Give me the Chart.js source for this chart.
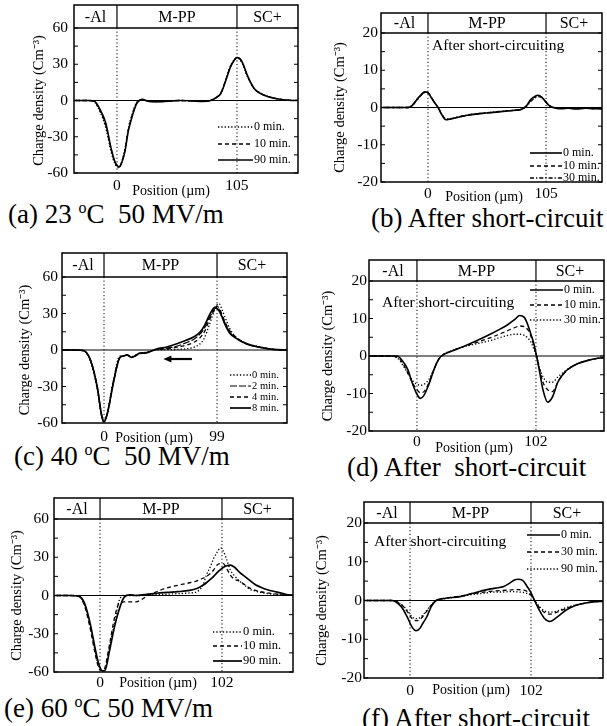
<!DOCTYPE html>
<html><head><meta charset="utf-8">
<script src="https://cdn.jsdelivr.net/npm/chart.js@4.4.1/dist/chart.umd.min.js"></script>
<style>
html,body{margin:0;padding:0;background:#fff;}
body{width:607px;height:726px;position:relative;overflow:hidden;}
.pn{position:absolute;}
.cap{position:absolute;font-family:"Liberation Serif","Times New Roman",serif;font-size:27px;color:#000;white-space:pre;line-height:1;}
.cap sup{font-size:16px;vertical-align:10px;line-height:0;}
</style></head><body>
<div class="cap" style="left:8px;top:201px">(a) 23 <sup>o</sup>C  50 MV/m</div>
<div class="cap" style="left:371px;top:205px">(b) After short-circuit</div>
<div class="cap" style="left:14px;top:443px">(c) 40 <sup>o</sup>C  50 MV/m</div>
<div class="cap" style="left:347px;top:454px">(d) After  short-circuit</div>
<div class="cap" style="left:4px;top:695px">(e) 60 <sup>o</sup>C 50 MV/m</div>
<div class="cap" style="left:362px;top:705px">(f) After short-circuit</div>
<script>
// ---------- data ----------
const regions = ['-Al', 'M-PP', 'SC+'];
const yTitle = 'Charge density (Cm\u207B\u00B3)';
const xTitle = 'Position (\u00B5m)';
const noteText = 'After short-circuiting';

// (a) 23 C 50 MV/m
const ticksA = [0, 105];
const posA = [-42,-25,-20,-15,-10,-5,-2,0,2,4,7,10,14,17,19,22,27,35,45,55,65,75,82,87,91,95,99,102,105,107,110,114,120,126,133,140,150,160];
const a0  = [0,0,-1,-9,-22,-43,-52,-55,-55.5,-51,-40,-23,-9,-2,0,0.5,-0.5,-1,-0.5,0,-0.3,-0.8,0,2.5,6.5,17,28,33,35,34.5,30,20,10,6,3,1.5,0.2,0];
const a10 = [0,0,-0.8,-8,-20,-41,-51,-54,-55,-51.5,-41,-24,-10,-2.5,-0.3,0.8,-0.5,-1,-0.5,0,-0.3,-0.8,0,2.5,6.2,16.5,27.5,32.8,35.5,35,30.5,20.5,10,5.8,3,1.5,0.2,0];
const a90 = [0,0,-0.5,-7,-18,-40,-50,-53.5,-55,-52,-42,-25,-11,-3,-0.5,1,-0.5,-1,-0.5,0,-0.3,-0.8,0,2.5,6,16,27,32.5,35.5,35,31,21,10,5.5,3,1.5,0.2,0];
const labelsA = ['0 min.', '10 min.', '90 min.'];

// (b) after short-circuit
const ticksB = [0, 105];
const posB = [-45,-25,-18,-14,-10,-6,-3,0,3,6,9,12,16,20,27,35,45,55,65,76,84,88,91,95,98,101,104,107,111,118,125,132,140,148,156];
const b0  = [0,0,0,0.6,2.1,3.5,4.2,4,2.6,1.2,0,-1.8,-3.3,-3.1,-2.6,-2.1,-1.7,-1.4,-1.1,-0.8,-0.4,0.6,2.0,3.0,3.3,2.8,1.8,0.7,0,-0.3,-0.2,-0.4,-0.2,-0.3,-0.3];
const b10 = [0,0,0,0.5,2.0,3.4,4.1,4,2.7,1.3,0,-1.7,-3.2,-3.1,-2.6,-2.1,-1.7,-1.4,-1.1,-0.8,-0.4,0.5,1.8,2.8,3.2,2.8,1.8,0.7,0,-0.3,-0.2,-0.3,-0.2,-0.3,-0.3];
const b30 = [0,0,0,0.5,1.9,3.3,4.0,3.9,2.7,1.3,0,-1.6,-3.1,-3.0,-2.5,-2.0,-1.6,-1.3,-1.0,-0.7,-0.3,0.4,1.5,2.5,2.9,2.7,1.9,0.8,0.1,-0.2,-0.2,-0.3,-0.2,-0.3,-0.3];
const labelsB = ['0 min.', '10 min.', '30 min.'];

// (c) 40 C 50 MV/m
const ticksC = [0, 99];
const posC = [-40,-25,-18,-12,-6,-2,0,3,8,14,17,20,24,28,31,36,40,46,55,65,72,78,84,88,92,95,97,99,101,103,106,110,115,125,137,148,162];
const c0 = [0,0,-0.5,-9,-32,-55,-59,-51,-26,-5,-5,-4,-5.5,-4,-2.5,-2,-1.2,0,0.3,0.5,1,2,5,10,20,28,33,37,38,34,27,18,11,5.5,2.5,0.5,0];
const c2 = [0,0,-0.5,-8,-30,-54,-59,-52,-28,-6,-5,-4,-6,-4.5,-2.7,-2.4,-1.3,0.5,1.5,3.5,6,8.5,13,18,26,31,34,35,33,29,22,15,10.5,5,2.2,0.5,0];
const c4 = [0,0,-0.5,-8,-30,-54,-59,-52,-27,-6,-5,-4,-6,-4.5,-2.7,-2.3,-1.3,0.3,1,2.5,4,6,10,15,24,30,34,36,34,30,23,16,11,5,2.2,0.5,0];
const c8 = [0,0,-0.5,-8,-30,-54,-59,-52,-28,-6,-5,-4,-6,-4.5,-2.7,-2.5,-1.4,0.8,2.5,5.5,8,10.5,14.5,20,28,33,35,34,32,28,21,14,10,5,2.2,0.5,0];
const labelsC = ['0 min.', '2 min.', '4 min.', '8 min.'];
const arrowC = [[77, -7.4], [52, -7.4]];

// (d) after short-circuit
const ticksD = [0, 102];
const posD = [-44,-25,-17,-12,-8,-4,0,3,6,10,15,18,21,30,41,52,64,72,78,84,88,92,95,98,100,102.5,105,108,112,116,121,127,133,138,145,155,163];
const d0  = [0,0,0,-1.5,-3.5,-7.2,-10.2,-11.3,-10.5,-7.7,-3.3,-1.2,0,1.3,2.7,4.2,6,7.3,8.4,9.8,10.8,10.3,8.3,5.5,3.5,0,-4,-9,-12.3,-11,-6.8,-4.2,-2.8,-2,-1.3,-0.6,-0.4];
const d10 = [0,0,-0.3,-2,-4.5,-7,-9,-9.8,-9.5,-7.3,-3.3,-1.2,0,1.4,2.6,3.7,5,6,6.8,7.6,8,7.8,7,5,3,0,-3.5,-7,-9,-9.5,-6.8,-4.3,-2.8,-2,-1.3,-0.6,-0.4];
const d30 = [0,0,-0.5,-2.5,-4.5,-6.5,-7.5,-7.8,-7.6,-6.3,-3.2,-1.2,0,1.5,2.5,3.3,4.2,5,5.5,5.8,5.8,5.5,4.8,3.5,2,0,-3,-5.5,-7,-7,-5.5,-4,-2.8,-2,-1.3,-0.6,-0.4];
const labelsD = ['0 min.', '10 min.', '30 min.'];

// (e) 60 C 50 MV/m
const ticksE = [0, 102];
const posE = [-42,-25,-18,-13,-8,-4,-1,2,4,8,12,16,20,25,30,35,39,45,50,56,65,75,81,86,89,92,95,98,101,103,106,109,112,117,121,125,130,134,140,148,155,163];
const e0  = [0,0,-0.5,-7,-25,-44,-56,-59,-58,-40,-22,-4,0,0,0,0,0.3,0.5,0.8,1,1.5,2,3,8,16,22,29,34,37.4,35,28,20,16,11,8,5,3.5,2.5,1.5,0.8,0.3,0];
const e10 = [0,0,-0.5,-8,-27,-46,-57,-59,-57,-38,-18,-6,-5,-5,-5,-3,-0.5,2,4,6,8,10,11.5,13.5,15,17,20,24,25,25,21,16,13,11,8.5,6,4,3,2,1,0.3,0];
const e90 = [0,0,-0.5,-6,-23,-42,-54,-59,-59,-43,-25,-11,-1.5,0.5,0,0.5,1,1.5,2,2.5,3,4,5.5,8,10,12.5,15,18,20.5,22,23.3,23.8,22.5,18,15,12,8.5,6.7,4.5,2.7,1,0];
const labelsE = ['0 min.', '10 min.', '90 min.'];

// (f) after short-circuit
const ticksF = [0, 102];
const posF = [-42,-25,-15,-10,-6,-2,2,5,8,11,14,18,22,30,42,52,65,72,79,84,88,91,95,99,102,105,109,113,118,124,132,140,149,156,164];
const f0  = [0,0,0,-0.8,-2.2,-4.5,-7,-7.8,-7.3,-5.8,-4.3,-1.5,0,0.6,1,1.8,2.8,3.2,3.6,4.5,5.3,5.5,5.2,3.5,2,0,-2.5,-4.5,-5.4,-4.3,-2.4,-1.2,-0.6,-0.3,-0.2];
const f30 = [0,0,0,-0.5,-1.5,-3,-4.8,-5.2,-5,-4,-2.8,-1.2,0,0.6,1.1,1.7,2.3,2.5,2.6,2.7,2.8,2.8,2.7,2.3,1.5,0,-1.8,-3,-3.5,-3,-2,-1.2,-0.6,-0.3,-0.2];
const f90 = [0,0,0,-0.5,-1.3,-2.7,-4.3,-4.7,-4.5,-3.7,-2.6,-1.1,0,0.5,1,1.5,2,2.2,2.2,2.3,2.3,2.2,2.1,1.8,1.2,0,-1.5,-2.6,-3,-2.7,-1.8,-1.1,-0.6,-0.3,-0.2];
const labelsF = ['0 min.', '30 min.', '90 min.'];

// ---------- styling / layout ----------
const FONT = '"Liberation Serif", "Times New Roman", serif';
const SOLID = [], DASH = [4, 3], DOT = [1.3, 2], DASHDOT = [4, 2, 1.3, 2], LONGDASH = [7, 2];

function ds(label, xs, ys, dash, w) {
  return {label, data: xs.map((x, i) => ({x, y: ys[i]})), borderColor: '#000', backgroundColor: '#000',
    borderWidth: w, borderDash: dash, pointRadius: 0, fill: false, cubicInterpolationMode: 'monotone'};
}

const panels = [
  {canvas:[0,0,303,200], area:[74,28,298,173], headTop:5, yr:[-60,60,30,15], xr:[-37.6,158.4], xTicks:ticksA,
   ds:[ds(labelsA[0],posA,a0,DOT,1.3), ds(labelsA[1],posA,a10,DASH,1.3), ds(labelsA[2],posA,a90,SOLID,1.6)],
   legend:{x0:218,x1:253,rows:[127,144,160],font:12}, titleX:39, yPad:6, xPad:4, posLbl:[171,191]},
  {canvas:[303,0,304,205], area:[381,33,602,182], headTop:13, yr:[-20,20,10,5], xr:[-41.8,154.8], xTicks:ticksB,
   ds:[ds(labelsB[0],posB,b0,SOLID,1.6), ds(labelsB[1],posB,b10,DASH,1.3), ds(labelsB[2],posB,b30,DASHDOT,1.3)],
   legend:{x0:530,x1:562,rows:[153,166,178],font:12}, titleX:340, yPad:3, xPad:3, posLbl:[484,197],
   note:[432,46]},
  {canvas:[0,240,303,210], area:[62,277,287,423], headTop:253, yr:[-60,60,30,15], xr:[-36.8,160.3], xTicks:ticksC,
   ds:[ds(labelsC[0],posC,c0,DOT,1.3), ds(labelsC[1],posC,c2,LONGDASH,1.2), ds(labelsC[2],posC,c4,DASH,1.3), ds(labelsC[3],posC,c8,SOLID,1.7)],
   legend:{x0:230,x1:251,rows:[375,386,397,408],font:10.5}, titleX:25, yPad:4, xPad:5, posLbl:[154,438], arrow:arrowC},
  {canvas:[303,240,304,220], area:[369,281,604,431], headTop:260, yr:[-20,20,10,5], xr:[-41.1,160.3], xTicks:ticksD,
   ds:[ds(labelsD[0],posD,d0,SOLID,1.6), ds(labelsD[1],posD,d10,DASH,1.3), ds(labelsD[2],posD,d30,DOT,1.3)],
   legend:{x0:530,x1:563,rows:[290,305,320],font:12}, titleX:328, yPad:2, xPad:2, posLbl:[474,448],
   note:[382,303]},
  {canvas:[0,480,303,215], area:[54,519,293,672], headTop:498, yr:[-60,60,30,15], xr:[-38.5,161.4], xTicks:ticksE,
   ds:[ds(labelsE[0],posE,e0,DOT,1.3), ds(labelsE[1],posE,e10,DASH,1.3), ds(labelsE[2],posE,e90,SOLID,1.7)],
   legend:{x0:213,x1:242,rows:[632,646,661],font:12.5}, titleX:17, yPad:5, xPad:2, posLbl:[158,683]},
  {canvas:[303,480,304,220], area:[364,523,603,678], headTop:502, yr:[-20,20,10,5], xr:[-38.8,162.7], xTicks:ticksF,
   ds:[ds(labelsF[0],posF,f0,SOLID,1.6), ds(labelsF[1],posF,f30,DASH,1.3), ds(labelsF[2],posF,f90,DOT,1.3)],
   legend:{x0:527,x1:560,rows:[535,552,569],font:12}, titleX:322, yPad:2, xPad:4, posLbl:[471,690],
   note:[374,542]}
];

function ln(ctx, x1, y1, x2, y2) { ctx.beginPath(); ctx.moveTo(x1, y1); ctx.lineTo(x2, y2); ctx.stroke(); }

function deco(p) {
  const [cx, cy] = p.canvas;
  return {
    id: 'deco',
    beforeDatasetsDraw(chart) {
      const {ctx, chartArea: a, scales: {x, y}} = chart;
      ctx.save();
      ctx.strokeStyle = '#000';
      ctx.lineWidth = 1.2;
      const y0 = y.getPixelForValue(0);
      ln(ctx, a.left, y0, a.right, y0);
      ctx.setLineDash([1.2, 2.4]); ctx.lineWidth = 1;
      p.xTicks.forEach(v => { const px = x.getPixelForValue(v); ln(ctx, px, a.top, px, a.bottom); });
      ctx.restore();
    },
    afterDraw(chart) {
      const {ctx, chartArea: a, scales: {x, y}} = chart;
      const ht = p.headTop - cy;
      ctx.save();
      ctx.strokeStyle = '#000'; ctx.fillStyle = '#000'; ctx.setLineDash([]);
      ctx.lineWidth = 1.5;
      ctx.strokeRect(a.left, ht, a.right - a.left, a.bottom - ht);
      ln(ctx, a.left, a.top, a.right, a.top);
      const xs = p.xTicks.map(v => x.getPixelForValue(v));
      ctx.lineWidth = 1.2;
      xs.forEach(px => ln(ctx, px, ht, px, a.top));
      ctx.font = '16px ' + FONT; ctx.textAlign = 'center'; ctx.textBaseline = 'middle';
      const bd = [a.left, xs[0], xs[1], a.right];
      regions.forEach((t, i) => ctx.fillText(t, (bd[i] + bd[i + 1]) / 2, (ht + a.top) / 2 + 1));
      ctx.lineWidth = 1;
      for (let v = p.yr[0]; v <= p.yr[1]; v += p.yr[3]) {
        const py = y.getPixelForValue(v);
        ln(ctx, a.left, py, a.left + 4, py); ln(ctx, a.right - 4, py, a.right, py);
      }
      ctx.font = '14px ' + FONT;
      ctx.fillText(xTitle, p.posLbl[0] - cx, p.posLbl[1] - cy);
      const lg = p.legend;
      ctx.font = lg.font + 'px ' + FONT; ctx.textAlign = 'left';
      chart.data.datasets.forEach((d, i) => {
        const yy = lg.rows[i] - cy;
        ctx.lineWidth = d.borderWidth; ctx.setLineDash(d.borderDash);
        ln(ctx, lg.x0 - cx, yy, lg.x1 - cx, yy);
        ctx.setLineDash([]);
        ctx.fillText(d.label, lg.x1 - cx + 1, yy);
      });
      if (p.note) {
        ctx.font = '15.5px ' + FONT;
        ctx.fillText(noteText, p.note[0] - cx, p.note[1] - cy);
      }
      if (p.arrow) {
        const [f, t] = p.arrow;
        const x1 = x.getPixelForValue(f[0]), y1 = y.getPixelForValue(f[1]);
        const x2 = x.getPixelForValue(t[0]), y2 = y.getPixelForValue(t[1]);
        ctx.lineWidth = 2.2;
        ln(ctx, x1, y1, x2 + 5, y2);
        ctx.beginPath(); ctx.moveTo(x2, y2); ctx.lineTo(x2 + 8, y2 - 3.5); ctx.lineTo(x2 + 8, y2 + 3.5); ctx.closePath(); ctx.fill();
      }
      ctx.restore();
    }
  };
}

function makeChart(p) {
  const [cx, cy, cw, ch] = p.canvas;
  const [L, T, R, B] = p.area;
  const wrap = document.createElement('div');
  wrap.className = 'pn'; wrap.style.left = cx + 'px'; wrap.style.top = cy + 'px';
  const cv = document.createElement('canvas');
  cv.width = cw; cv.height = ch; cv.style.width = cw + 'px'; cv.style.height = ch + 'px';
  wrap.appendChild(cv); document.body.appendChild(wrap);
  const yW = L - cx, xH = cy + ch - B;
  new Chart(cv, {
    type: 'line',
    data: {datasets: p.ds},
    options: {
      responsive: false, animation: false, devicePixelRatio: 1,
      layout: {padding: {left: 0, top: T - cy, right: cx + cw - R, bottom: 0}},
      plugins: {legend: {display: false}, tooltip: {enabled: false}},
      scales: {
        x: {type: 'linear', min: p.xr[0], max: p.xr[1],
          grid: {display: false, drawTicks: false}, border: {display: false},
          afterBuildTicks: s => { s.ticks = p.xTicks.map(v => ({value: v})); },
          afterFit: s => { s.height = xH; },
          ticks: {font: {family: FONT, size: 15.5}, color: '#000', padding: p.xPad, maxRotation: 0, autoSkip: false}},
        y: {min: p.yr[0], max: p.yr[1],
          grid: {display: false, drawTicks: false}, border: {display: false},
          afterFit: s => { s.width = yW; },
          ticks: {stepSize: p.yr[2], font: {family: FONT, size: 15.5}, color: '#000', padding: p.yPad},
          title: {display: true, text: yTitle, font: {family: FONT, size: 14.5}, color: '#000',
            padding: {top: p.titleX - cx - 8.7, bottom: 0}}}
      }
    },
    plugins: [deco(p)]
  });
}
panels.forEach(makeChart);
</script>
</body></html>
